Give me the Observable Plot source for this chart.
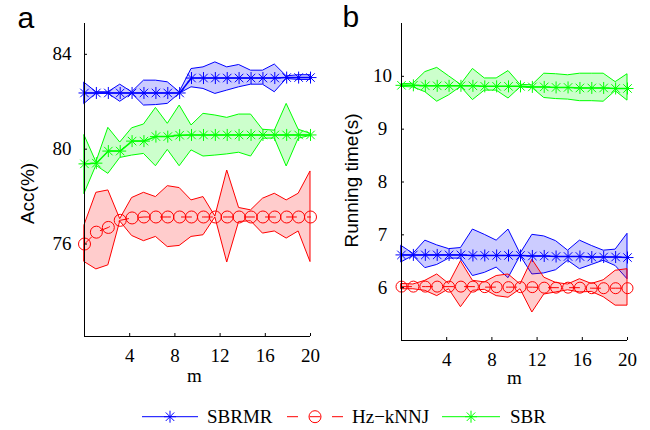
<!DOCTYPE html>
<html><head><meta charset="utf-8">
<script src="https://cdn.jsdelivr.net/npm/d3@7"></script>
<script src="https://cdn.jsdelivr.net/npm/@observablehq/plot@0.6"></script>
<style>
body{margin:0;background:#fff;}
#wrap{width:650px;height:430px;position:relative;overflow:hidden;background:#fff}
#row{display:flex;}
#row svg{display:block;background:#fff}
#legend svg{display:block}
#row svg text.serif, #row g[aria-label$="tick label"] text, #legend text{font-family:"Liberation Serif"}
</style></head><body>
<div id="wrap"><div id="row"></div><div id="legend"></div></div>
<script>
// x positions (m)
const m = [0, 1.05, 2.11, 3.16, 4.21, 5.26, 6.32, 7.37, 8.42, 9.47, 10.53, 11.58, 12.63, 13.68, 14.74, 15.79, 16.84, 17.89, 18.95, 20];
const seriesNames = ["SBRMR", "Hz\u2212kNNJ", "SBR"];
const xTicks = [4, 8, 12, 16, 20];
const accTicks = [76, 80, 84];
const timeTicks = [6, 7, 8, 9, 10];

// Panel a: accuracy (%)
const accSBRMR    = [82.37, 82.37, 82.37, 82.37, 82.37, 82.37, 82.37, 82.37, 82.37, 83.0, 83.0, 83.0, 83.0, 83.0, 83.0, 83.0, 83.0, 83.02, 83.02, 83.02];
const accSBRMRHi  = [82.8, 82.4, 82.4, 82.72, 82.4, 82.89, 82.89, 82.82, 82.4, 83.38, 83.45, 83.66, 83.45, 83.55, 83.31, 83.31, 83.57, 83.07, 83.12, 83.12];
const accSBRMRLo  = [81.91, 82.34, 82.34, 82.0, 82.34, 81.84, 81.86, 81.91, 82.34, 82.61, 82.54, 82.33, 82.47, 82.61, 82.72, 82.72, 82.4, 82.96, 82.92, 82.92];
const accHz       = [76.0, 76.5, 76.7, 77.0, 77.1, 77.14, 77.14, 77.14, 77.14, 77.14, 77.14, 77.14, 77.14, 77.14, 77.14, 77.14, 77.14, 77.14, 77.14, 77.14];
const accHzHi     = [76.79, 78.16, 78.26, 77.05, 77.94, 78.16, 77.98, 78.44, 78.36, 77.84, 77.98, 77.16, 79.1, 77.52, 77.42, 77.91, 78.12, 77.84, 78.12, 79.06];
const accHzLo     = [75.24, 74.93, 75.1, 76.95, 76.34, 76.12, 76.3, 75.87, 75.92, 76.3, 76.37, 77.12, 75.22, 76.93, 76.96, 76.44, 76.53, 76.23, 76.53, 75.24];
const accSBR      = [79.38, 79.41, 79.92, 79.92, 80.34, 80.34, 80.53, 80.53, 80.59, 80.6, 80.6, 80.6, 80.6, 80.6, 80.6, 80.6, 80.6, 80.6, 80.6, 80.6];
const accSBRHi    = [80.58, 79.45, 80.9, 80.28, 80.88, 81.04, 81.74, 81.07, 81.84, 81.0, 81.49, 81.42, 81.32, 81.46, 81.46, 80.82, 80.78, 81.91, 80.82, 80.65];
const accSBRLo    = [78.12, 79.3, 78.96, 79.63, 79.73, 79.8, 79.28, 79.97, 79.28, 79.95, 79.69, 79.73, 79.78, 79.85, 79.69, 80.44, 80.45, 79.27, 80.44, 80.56];

// Panel b: running time (s)
const tSBRMR   = [6.62, 6.62, 6.62, 6.62, 6.62, 6.62, 6.61, 6.61, 6.61, 6.61, 6.61, 6.60, 6.60, 6.59, 6.59, 6.59, 6.58, 6.58, 6.58, 6.57];
const tSBRMRHi = [6.79, 6.64, 6.89, 6.80, 6.73, 6.75, 7.10, 7.0, 6.89, 7.10, 6.64, 7.0, 6.97, 6.88, 6.70, 6.89, 6.79, 6.70, 6.72, 7.02];
const tSBRMRLo = [6.48, 6.60, 6.37, 6.43, 6.55, 6.55, 6.22, 6.28, 6.38, 6.18, 6.60, 6.25, 6.27, 6.33, 6.51, 6.35, 6.43, 6.51, 6.41, 6.16];
const tHz      = [6.02, 6.02, 6.02, 6.02, 6.02, 6.02, 6.02, 6.01, 6.01, 6.01, 6.01, 6.01, 6.0, 6.0, 6.0, 6.0, 5.99, 5.99, 5.99, 5.99];
const tHzHi    = [6.07, 6.06, 6.13, 6.25, 6.07, 6.50, 6.13, 6.10, 6.22, 6.25, 6.06, 6.53, 6.19, 6.09, 6.06, 6.16, 6.07, 6.14, 6.32, 6.35];
const tHzLo    = [5.97, 5.97, 5.94, 5.84, 5.97, 5.63, 5.94, 5.96, 5.84, 5.81, 5.97, 5.53, 5.87, 5.91, 5.95, 5.91, 5.92, 5.82, 5.66, 5.66];
const tSBR     = [9.83, 9.83, 9.82, 9.82, 9.82, 9.82, 9.82, 9.81, 9.81, 9.81, 9.81, 9.80, 9.80, 9.79, 9.79, 9.78, 9.78, 9.78, 9.77, 9.77];
const tSBRHi   = [9.85, 9.86, 10.08, 10.16, 10.0, 9.84, 10.14, 9.96, 9.96, 10.1, 9.84, 9.83, 10.05, 10.04, 10.02, 10.05, 10.05, 10.05, 9.89, 10.04];
const tSBRLo   = [9.80, 9.79, 9.70, 9.52, 9.64, 9.80, 9.55, 9.73, 9.73, 9.58, 9.79, 9.78, 9.59, 9.57, 9.56, 9.53, 9.53, 9.52, 9.72, 9.54];

const colors = ["#0000ff", "#ff0000", "#00ff00"];

const rows = (mean, hi, lo) => m.map((x, i) => ({m: x, mean: mean[i], hi: hi[i], lo: lo[i]}));

// MATLAB-style asterisk marker (8 spokes)
const star = {
  draw(ctx, size) {
    const r = Math.sqrt(size / Math.PI), d = r * Math.SQRT1_2;
    ctx.moveTo(-r, 0); ctx.lineTo(r, 0);
    ctx.moveTo(0, -r); ctx.lineTo(0, r);
    ctx.moveTo(-d, -d); ctx.lineTo(d, d);
    ctx.moveTo(-d, d); ctx.lineTo(d, -d);
  }
};

const SERIF = "Liberation Serif";
const SANS = "Liberation Sans";

function panel(o) {
  const series = [
    {rows: rows(...o.data[0]), color: colors[0], marker: "star"},
    {rows: rows(...o.data[1]), color: colors[1], marker: "circle", dash: "10,11"},
    {rows: rows(...o.data[2]), color: colors[2], marker: "star"}
  ];
  const marks = [];
  for (const s of series) marks.push(Plot.areaY(s.rows, {x: "m", y1: "lo", y2: "hi", fill: s.color, fillOpacity: 0.2, stroke: s.color, strokeWidth: 1, curve: "linear"}));
  for (const s of series) marks.push(Plot.lineY(s.rows, {x: "m", y: "mean", stroke: s.color, strokeWidth: s.dash ? 1 : 1.5, strokeDasharray: s.dash}));
  for (const s of series) marks.push(Plot.dot(s.rows, {x: "m", y: "mean", r: s.marker === "circle" ? o.circR : 6, symbol: s.marker === "circle" ? "circle" : star, stroke: s.color, fill: "none", strokeWidth: 1}));
  marks.push(
    Plot.ruleX([0], {stroke: "#000", strokeWidth: 1}),
    Plot.ruleY([o.yDomain[0]], {stroke: "#000", strokeWidth: 1}),
    Plot.axisX({ticks: xTicks, tickSize: -3, tickPadding: 15, label: null, tickFormat: d => String(d), fontFamily: SERIF, fontSize: 19}),
    Plot.axisY({ticks: o.yTicks, tickSize: -3, tickPadding: o.yPad, textAnchor: o.yAnchor, label: null, tickFormat: d => String(d), fontFamily: SERIF, fontSize: 19}),
    Plot.text([o.letter], {frameAnchor: "top-left", dx: o.letterDx, dy: o.letterDy, lineAnchor: "bottom", textAnchor: "start", fontSize: 30, fontFamily: SANS, fill: "#000"}),
    Plot.text([o.ylabel], {frameAnchor: "left", rotate: -90, dx: o.ylabelDx, dy: o.ylabelDy, lineAnchor: "bottom", textAnchor: "middle", fontSize: 19, fontFamily: SANS, fill: "#000"}),
    Plot.text(["m"], {frameAnchor: "bottom", dx: o.mDx, dy: o.mDy, lineAnchor: "bottom", textAnchor: "middle", fontSize: 19, fontFamily: SERIF, fill: "#000", className: "serif"})
  );
  const svg = Plot.plot({
    width: 325, height: 400,
    marginLeft: o.mL, marginRight: o.mR, marginTop: 23, marginBottom: o.mB,
    x: {domain: [0, 20]},
    y: {domain: o.yDomain},
    style: {fontSize: "19px", color: "#000", background: "#fff", overflow: "visible"},
    marks
  });
  d3.select(svg).selectAll('g[aria-label$="tick label"] text').style("font-family", SERIF);
  return svg;
}

const row = document.getElementById("row");
row.appendChild(panel({
  data: [[accSBRMR, accSBRMRHi, accSBRMRLo], [accHz, accHzHi, accHzLo], [accSBR, accSBRHi, accSBRLo]],
  yDomain: [72.1, 85.3], yTicks: accTicks, yPad: 16, yAnchor: "end",
  mL: 84, mR: 15, mB: 64, circR: 6,
  letter: "a", letterDx: -67, letterDy: 4,
  ylabel: "Acc(%)", ylabelDx: -51, ylabelDy: 13.5,
  mDx: -3, mDy: 45.5
}));
row.appendChild(panel({
  data: [[tSBRMR, tSBRMRHi, tSBRMRLo], [tHz, tHzHi, tHzLo], [tSBR, tSBRHi, tSBRLo]],
  yDomain: [5, 11], yTicks: timeTicks, yPad: 22, yAnchor: "middle",
  mL: 76, mR: 23, mB: 60, circR: 5.5,
  letter: "b", letterDx: -59, letterDy: 3,
  ylabel: "Running time(s)", ylabelDx: -44, ylabelDy: -1.5,
  mDx: 0, mDy: 43
}));

// Legend below the two panels
const lg = d3.select("#legend").append("svg").attr("width", 650).attr("height", 30);
const items = [
  {x1: 142, x2: 198, text: 207, marker: "star"},
  {x1: 287, x2: 343, text: 352, marker: "circle", dash: "11,11.5"},
  {x1: 442, x2: 500, text: 510, marker: "star"}
];
const ly = 16.7;
items.forEach((it, i) => {
  const c = colors[i];
  lg.append("line").attr("x1", it.x1).attr("x2", it.x2).attr("y1", ly).attr("y2", ly)
    .attr("stroke", c).attr("stroke-width", 1).attr("stroke-dasharray", it.dash || null);
  const cx = (it.x1 + it.x2) / 2;
  if (it.marker === "circle") {
    lg.append("circle").attr("cx", cx).attr("cy", ly).attr("r", 6).attr("fill", "none").attr("stroke", c);
  } else {
    const p = d3.path();
    star.draw(p, Math.PI * 36);
    lg.append("path").attr("transform", `translate(${cx},${ly})`).attr("d", p.toString()).attr("fill", "none").attr("stroke", c);
  }
  lg.append("text").attr("x", it.text).attr("y", 23.3).style("font-family", SERIF).style("font-size", "19px").attr("fill", "#000").text(seriesNames[i]);
});
</script>
</body></html>
